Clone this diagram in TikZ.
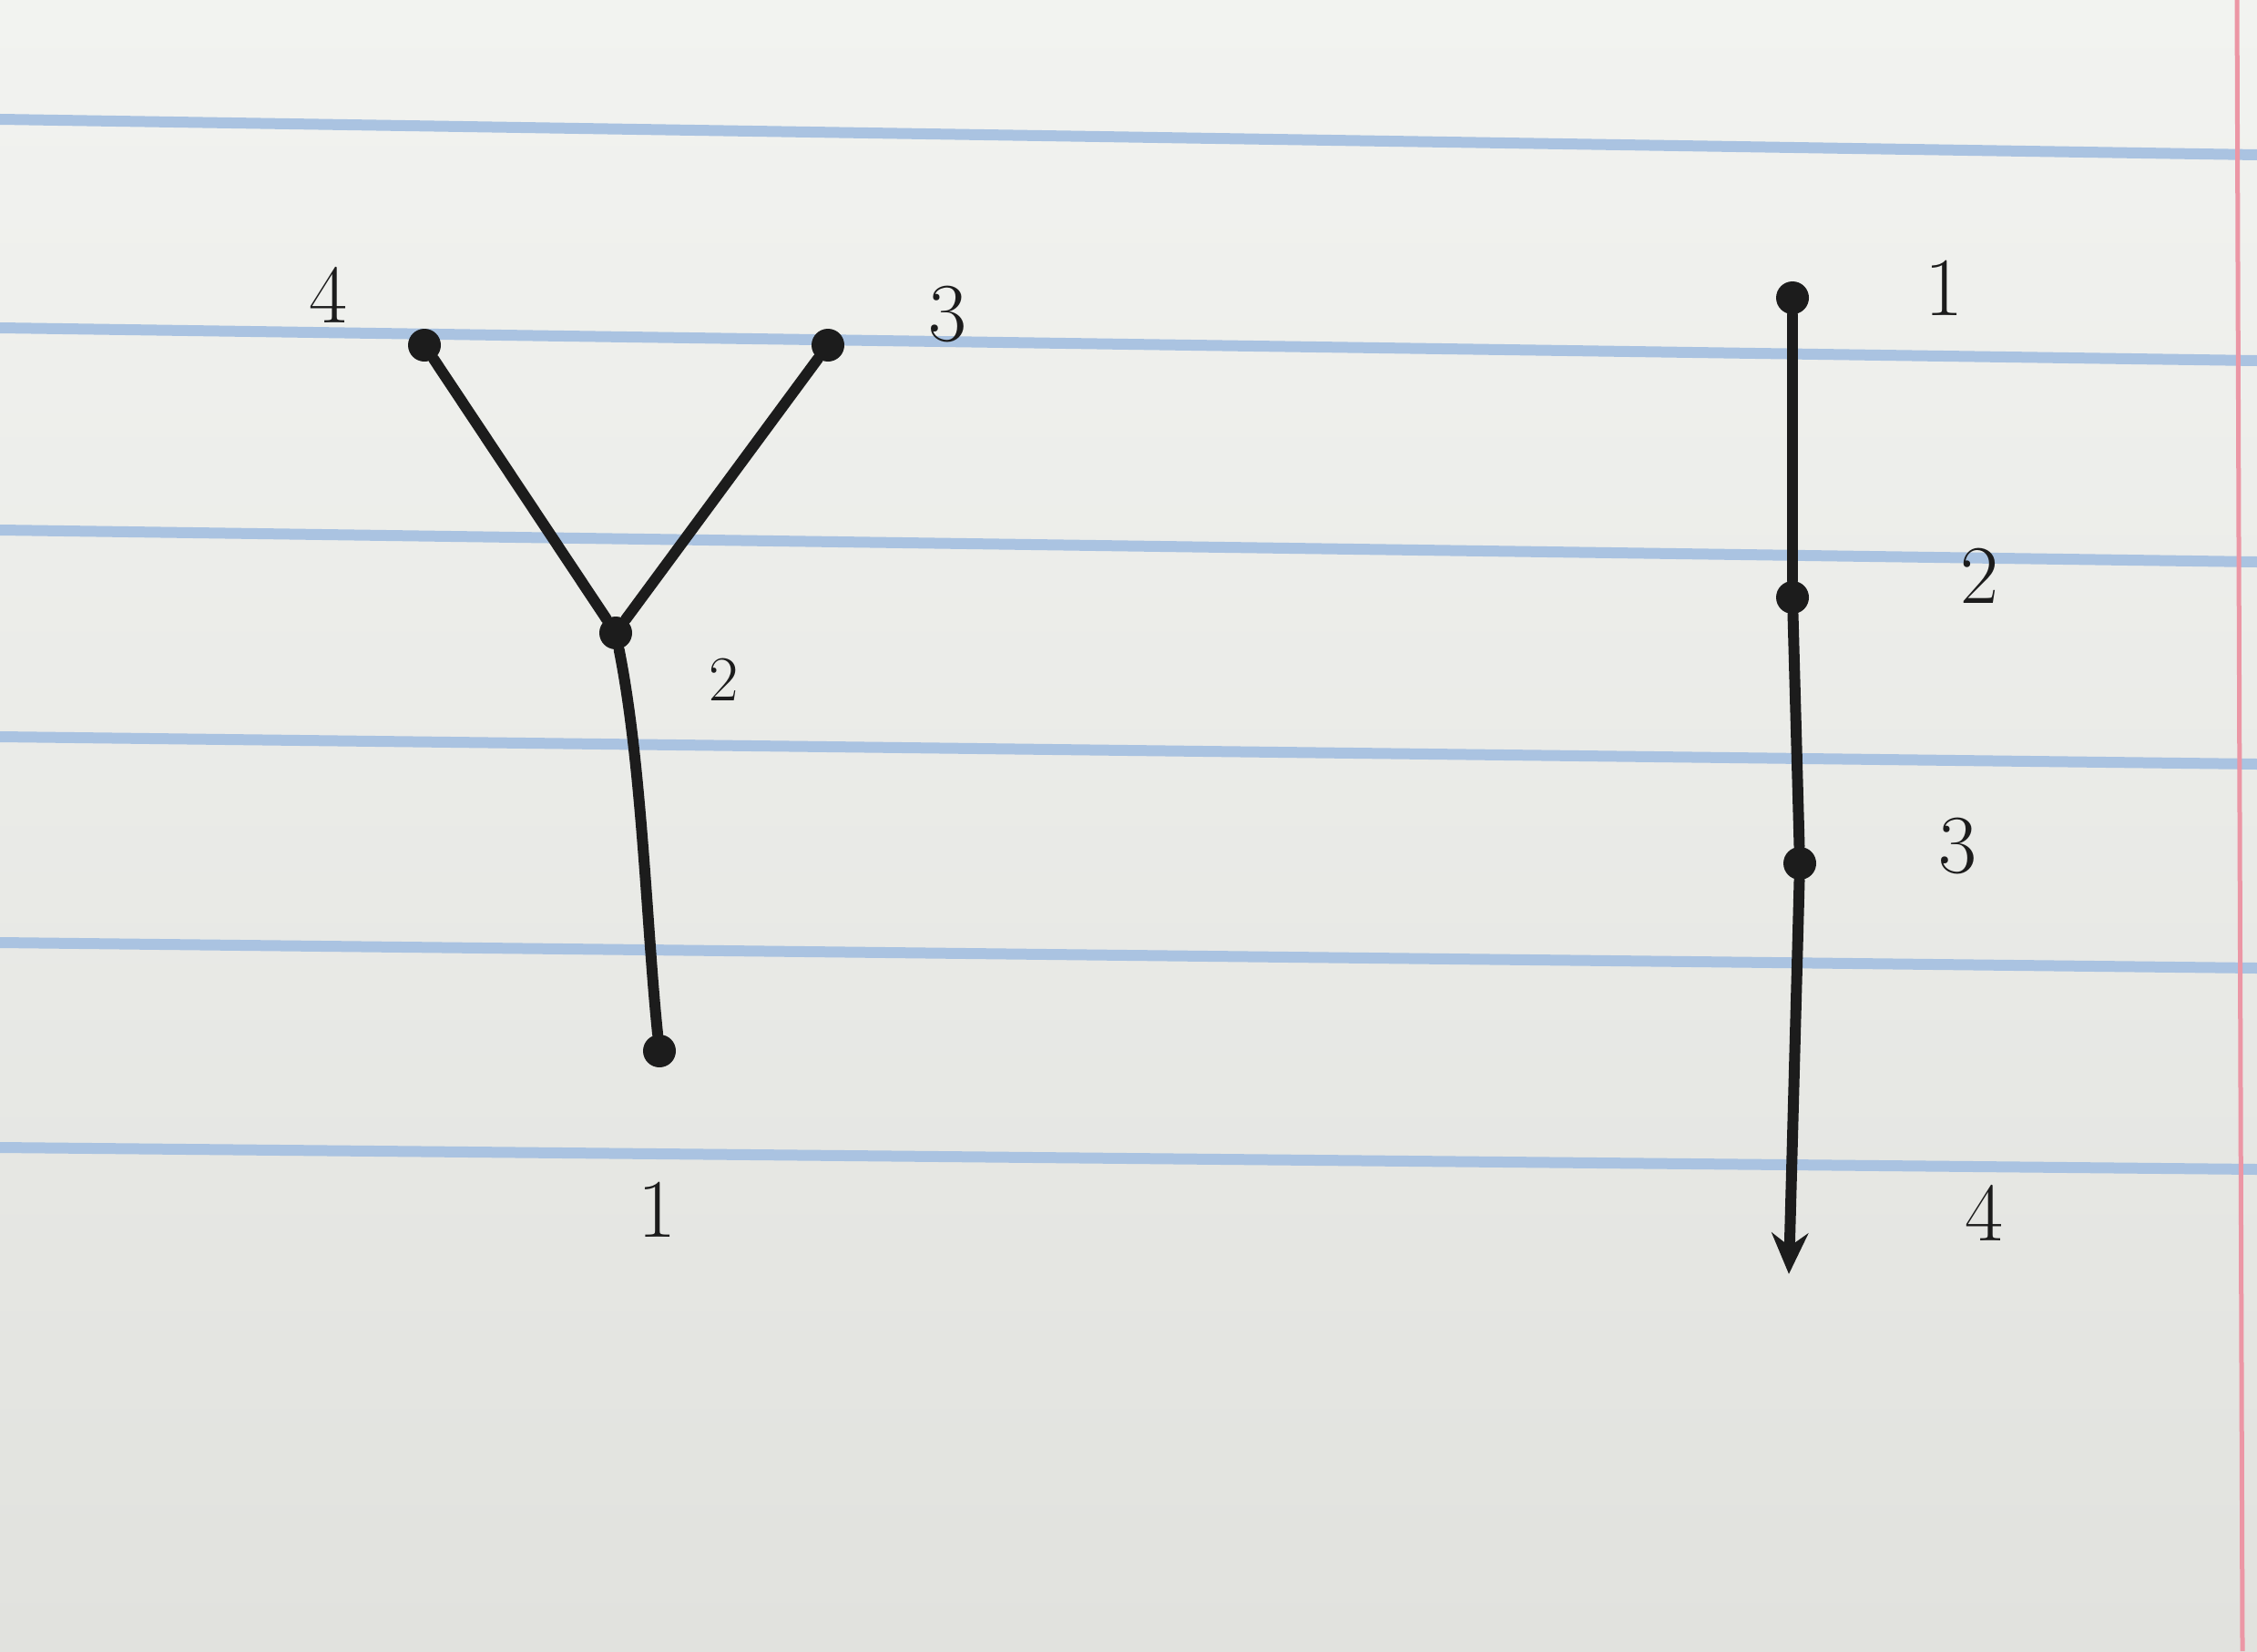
\documentclass[tikz,border=0pt]{standalone}
\usetikzlibrary{arrows.meta}
\definecolor{paperT}{RGB}{242,243,240}
\definecolor{paperB}{RGB}{225,226,222}
\definecolor{ruleblue}{RGB}{170,195,225}
\definecolor{marginred}{RGB}{236,150,165}
\definecolor{ink}{RGB}{28,28,28}
\tikzset{
  rule/.style={draw=ruleblue, line width=0.12cm},
  pen/.style={draw=ink, line width=0.12cm, line cap=round},
  dot/.style={circle, fill=ink, inner sep=0pt, minimum size=0.36cm},
  lbl/.style={text=ink, font=\fontsize{26}{30}\selectfont, inner sep=0pt}
}
\begin{document}
\begin{tikzpicture}
\useasboundingbox (0,0) rectangle (24.78,-18.13);
\shade[top color=paperT, bottom color=paperB] (0,0) rectangle (24.78,-18.13);
% ruled lines
\draw[rule] (0,-1.31) -- (24.78,-1.70);
\draw[rule] (0,-3.60) -- (24.78,-3.96);
\draw[rule] (0,-5.82) -- (24.78,-6.17);
\draw[rule] (0,-8.09) -- (24.78,-8.39);
\draw[rule] (0,-10.35) -- (24.78,-10.63);
\draw[rule] (0,-12.60) -- (24.78,-12.84);
% margin line
\draw[draw=marginred, line width=0.05cm] (24.56,0) -- (24.62,-18.13);
% left tree
\node[dot] (a4) at (4.66,-3.79) {};
\node[dot] (a3) at (9.09,-3.79) {};
\node[dot] (a2) at (6.76,-6.95) {};
\node[dot] (a1) at (7.24,-11.54) {};
\draw[pen] (a4) -- (a2);
\draw[pen] (a3) -- (a2);
\draw[pen] (a2) .. controls (7.05,-8.4) and (7.10,-10.2) .. (a1);
\node[lbl] (t4) at (3.60,-3.24) {4};
\node[lbl] (t3) at (10.40,-3.45) {3};
\node[lbl, font=\fontsize{20}{24}\selectfont] (t2) at (7.95,-7.46) {2};
\node[lbl] (t1) at (7.21,-13.28) {1};
% right path
\node[dot] (b1) at (19.68,-3.27) {};
\node[dot] (b2) at (19.68,-6.56) {};
\node[dot] (b3) at (19.76,-9.48) {};
\coordinate (b4) at (19.64,-13.99);
\draw[pen] (b1) -- (b2);
\draw[pen] (b2) -- (b3);
\draw[pen, -{Stealth[length=0.45cm, width=0.40cm]}] (b3) -- (b4);
\node[lbl] (s1) at (21.34,-3.16) {1};
\node[lbl] (s2) at (21.73,-6.32) {2};
\node[lbl] (s3) at (21.49,-9.29) {3};
\node[lbl] (s4) at (21.78,-13.32) {4};
\end{tikzpicture}
\end{document}
